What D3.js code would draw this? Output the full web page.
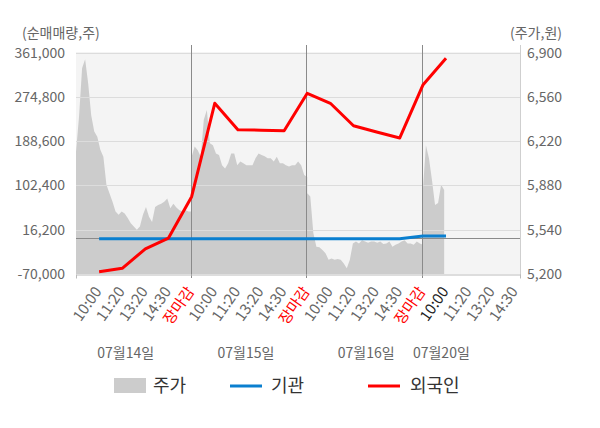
<!DOCTYPE html>
<html>
<head>
<meta charset="utf-8">
<script src="https://cdn.jsdelivr.net/npm/d3@7"></script>
<style>
  body { margin: 0; background: #fff; }
  text { font-family: "Noto Sans CJK KR", "Noto Sans", sans-serif; }
</style>
</head>
<body>
<div id="chart"></div>
<script>
// tick values
const leftTicks = [-70000, 16200, 102400, 188600, 274800, 361000]
const rightTicks = [5200, 5540, 5880, 6220, 6560, 6900]
const timeLabels = ["10:00", "11:20", "13:20", "14:30", "장마감",
                    "10:00", "11:20", "13:20", "14:30", "장마감",
                    "10:00", "11:20", "13:20", "14:30", "장마감",
                    "10:00", "11:20", "13:20", "14:30"]
const dateLabels = ["07월14일", "07월15일", "07월16일", "07월20일"]
const dateSlot = [2.15, 7.35, 12.55, 15.8]

// 주가 (intraday, evenly spaced within each day)
const priceDay1 = [6140, 6410, 6780, 6850, 6665, 6420, 6295, 6255, 6155, 6100, 5885, 5820, 5755, 5680, 5655, 5680, 5665, 5630, 5590, 5565,
                   5540, 5565, 5655, 5715, 5640, 5600, 5715, 5730, 5740, 5755, 5780, 5705, 5740, 5710, 5690, 5680, 5690, 5680, 5680]
const priceDay2 = [6100, 6180, 6150, 6100, 6385, 6460, 6205, 6190, 6125, 6115, 6035, 6010, 6050, 6125, 6125, 6035, 6065, 6050, 6035, 6035,
                   6035, 6090, 6125, 6115, 6105, 6090, 6090, 6065, 6100, 6050, 6050, 6035, 6025, 6035, 6035, 6065, 6035, 5960, 5945]
const priceDay3 = [5820, 5795, 5515, 5410, 5405, 5385, 5360, 5310, 5320, 5310, 5315, 5310, 5280, 5245, 5310, 5435, 5450, 5435, 5460, 5450,
                   5440, 5450, 5450, 5440, 5450, 5430, 5435, 5450, 5410, 5425, 5435, 5450, 5460, 5435, 5435, 5425, 5450, 5435, 5425]
const priceDay4 = [5845, 6190, 6090, 5920, 5730, 5745, 5885, 5845]

// 기관 / 외국인 net volume at slots 1..16
const institution = [-1500, -1500, -1500, -1500, -1500, -1500, -1500, -1500, -1500, -1500, -1500, -1500, -1500, -1500, 4000, 4200]
const foreign = [-65500, -58900, -21000, 0, 80500, 262500, 211000, 210000, 209000, 282000, 262500, 218800, 206600, 195000, 298000, 350000]

const W = 600, H = 428
const plot = { left: 76, right: 520, top: 52.7, bottom: 274 }
const gray = "#666"

const svg = d3.select("#chart").append("svg")
    .attr("width", W)
    .attr("height", H)

const x = d3.scaleLinear().domain([0, 19.2]).range([plot.left, plot.right])
const yL = d3.scaleLinear().domain([-70000, 361000]).range([plot.bottom, plot.top])
const yR = d3.scaleLinear().domain([5200, 6900]).range([plot.bottom, plot.top])
const fmt = d => d3.format(",")(d).replace("−", "-")

// build price series
const stepSlot = 5 / 38
var priceData = [];
[priceDay1, priceDay2, priceDay3, priceDay4].forEach((arr, d) => {
    arr.forEach((v, i) => priceData.push({ s: d * 5 + i * stepSlot, v: v }))
})

// background
svg.append("rect")
    .attr("x", plot.left).attr("y", plot.top - 0.7)
    .attr("width", plot.right - plot.left).attr("height", plot.bottom - plot.top + 0.7)
    .attr("fill", "#f4f4f4")

// price area
svg.append("path")
    .datum(priceData)
    .attr("fill", "#cccccc")
    .attr("d", d3.area()
        .x(d => x(d.s))
        .y0(yR(5200))
        .y1(d => yR(d.v)))

// gridlines
svg.append("g").selectAll("line")
    .data(leftTicks.slice(1))
    .join("line")
    .attr("x1", plot.left).attr("x2", plot.right)
    .attr("y1", d => Math.round(yL(d)) + 0.5).attr("y2", d => Math.round(yL(d)) + 0.5)
    .attr("stroke", "#dcdcdc")

// zero line
svg.append("line")
    .attr("x1", plot.left).attr("x2", plot.right)
    .attr("y1", Math.round(yL(0)) + 0.5).attr("y2", Math.round(yL(0)) + 0.5)
    .attr("stroke", "#8a8a8a")

// day separators
svg.append("g").selectAll("line")
    .data([5, 10, 15])
    .join("line")
    .attr("x1", d => Math.round(x(d)) - 0.5).attr("x2", d => Math.round(x(d)) - 0.5)
    .attr("y1", 45).attr("y2", 278)
    .attr("stroke", "#8a8a8a")

// right border
svg.append("line")
    .attr("x1", plot.right + 0.5).attr("x2", plot.right + 0.5)
    .attr("y1", 45).attr("y2", 278)
    .attr("stroke", "#cfcfcf")

// bottom axis line + ticks
const xAxis = svg.append("g")
    .attr("transform", "translate(0," + (plot.bottom + 0.5) + ")")
    .call(d3.axisBottom(x).tickValues([0, 19.2]).tickSize(4).tickSizeOuter(0).tickFormat(""))
xAxis.selectAll("path,line").attr("stroke", "#bbb")

// left axis
const yAxisL = svg.append("g")
    .attr("transform", "translate(" + plot.left + ",0)")
    .call(d3.axisLeft(yL).tickValues(leftTicks).tickFormat(fmt).tickSize(0).tickPadding(11))
yAxisL.select(".domain").remove()
yAxisL.selectAll("text").attr("fill", gray).style("font-size", "14px")
    .style("font-family", "'Noto Sans CJK KR'")

// right axis
const yAxisR = svg.append("g")
    .attr("transform", "translate(" + plot.right + ",0)")
    .call(d3.axisRight(yR).tickValues(rightTicks).tickFormat(fmt).tickSize(0).tickPadding(7))
yAxisR.select(".domain").remove()
yAxisR.selectAll("text").attr("fill", gray).style("font-size", "14px")
    .style("font-family", "'Noto Sans CJK KR'")

// institution line
svg.append("path")
    .datum(institution)
    .attr("fill", "none")
    .attr("stroke", "#0a7fcf")
    .attr("stroke-width", 3)
    .attr("d", d3.line().x((d, i) => x(i + 1)).y(d => yL(d)))

// foreign line
svg.append("path")
    .datum(foreign)
    .attr("fill", "none")
    .attr("stroke", "#ff0000")
    .attr("stroke-width", 3)
    .attr("stroke-linejoin", "round")
    .attr("d", d3.line().x((d, i) => x(i + 1)).y(d => yL(d)))

// x labels, rotated
svg.append("g").selectAll("text")
    .data(timeLabels)
    .join("text")
    .attr("transform", (d, i) => "translate(" + (x(i + 1) + 3.2) + ",291.5) rotate(-55)")
    .attr("text-anchor", "end")
    .style("font-size", "15px")
    .attr("fill", (d, i) => d === "장마감" ? "#ff0000" : (i === 15 ? "#222" : gray))
    .text(d => d)

// date labels
svg.append("g").selectAll("text")
    .data(dateLabels)
    .join("text")
    .attr("x", (d, i) => x(dateSlot[i]))
    .attr("y", 358)
    .attr("text-anchor", "middle")
    .style("font-size", "14px")
    .attr("fill", gray)
    .text(d => d)

// axis titles
svg.append("text").attr("x", 22).attr("y", 38)
    .style("font-size", "14px").attr("fill", gray).text("(순매매량,주)")
svg.append("text").attr("x", 562).attr("y", 38).attr("text-anchor", "end")
    .style("font-size", "14px").attr("fill", gray).text("(주가,원)")

// legend
svg.append("rect").attr("x", 114).attr("y", 378).attr("width", 32).attr("height", 15).attr("fill", "#cccccc")
svg.append("text").attr("x", 153).attr("y", 392).style("font-size", "18px").attr("fill", "#333").text("주가")
svg.append("line").attr("x1", 230).attr("x2", 262).attr("y1", 386).attr("y2", 386)
    .attr("stroke", "#0a7fcf").attr("stroke-width", 3)
svg.append("text").attr("x", 271).attr("y", 392).style("font-size", "18px").attr("fill", "#333").text("기관")
svg.append("line").attr("x1", 368).attr("x2", 400).attr("y1", 386).attr("y2", 386)
    .attr("stroke", "#ff0000").attr("stroke-width", 3)
svg.append("text").attr("x", 410).attr("y", 392).style("font-size", "18px").attr("fill", "#333").text("외국인")
</script>
</body>
</html>
